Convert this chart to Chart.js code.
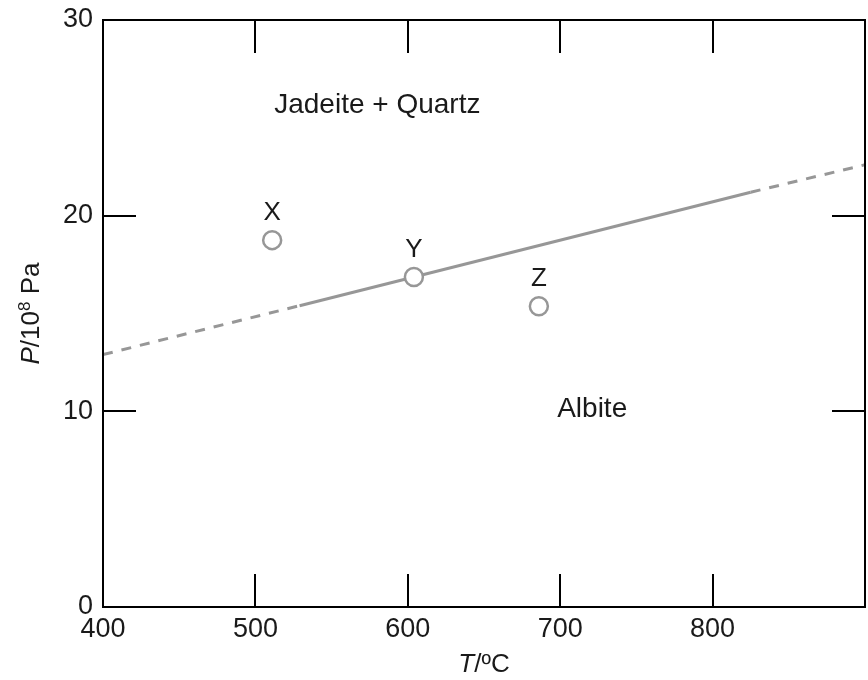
<!DOCTYPE html>
<html>
<head>
<meta charset="utf-8">
<title>Jadeite + Quartz / Albite phase boundary</title>
<script src="https://cdn.jsdelivr.net/npm/chart.js@4.4.1/dist/chart.umd.min.js"></script>
<style>
  html, body { margin: 0; padding: 0; background: #fff; }
  #wrap { width: 868px; height: 680px; }
</style>
</head>
<body>
<div id="wrap"><canvas id="c" width="868" height="680"></canvas></div>
<script>
// Phase boundary (T in °C, P in 10^8 Pa); solid between the middle two points
const boundaryT = [400, 529, 825, 900];
const boundaryP = [12.9, 15.4, 21.2, 22.6];

// Sample points
const sampleNames = ['X', 'Y', 'Z'];
const sampleT = [511, 604, 686];
const sampleP = [18.75, 16.87, 15.37];

// Field labels
const fieldNames = ['Jadeite + Quartz', 'Albite'];
const fieldT = [580, 721];
const fieldP = [25.65, 10.1];

// Axis ticks
const xTicks = [400, 500, 600, 700, 800, 900];
const yTicks = [0, 10, 20, 30];

const FONT = '"Liberation Sans", Arial, Helvetica, sans-serif';
const TEXT = '#1a1a1a';
const GREY = '#979797';

const frameAndLabels = {
  id: 'frameAndLabels',
  afterDraw(chart) {
    const ctx = chart.ctx;
    const a = chart.chartArea;
    const xs = chart.scales.x, ys = chart.scales.y;
    ctx.save();
    // frame
    ctx.strokeStyle = '#000';
    ctx.lineWidth = 2;
    ctx.strokeRect(a.left, a.top, a.right - a.left, a.bottom - a.top);
    // inward tick marks on all four sides
    const tl = 33;
    ctx.beginPath();
    xTicks.forEach(v => {
      if (v <= xs.min || v >= xs.max) return;
      const px = Math.round(xs.getPixelForValue(v));
      ctx.moveTo(px, a.bottom); ctx.lineTo(px, a.bottom - tl);
      ctx.moveTo(px, a.top); ctx.lineTo(px, a.top + tl);
    });
    yTicks.forEach(v => {
      if (v <= ys.min || v >= ys.max) return;
      const py = Math.round(ys.getPixelForValue(v));
      ctx.moveTo(a.left, py); ctx.lineTo(a.left + tl, py);
      ctx.moveTo(a.right, py); ctx.lineTo(a.right - tl, py);
    });
    ctx.stroke();

    // sample labels above the circles
    ctx.fillStyle = TEXT;
    ctx.font = '26px ' + FONT;
    ctx.textAlign = 'center';
    ctx.textBaseline = 'middle';
    sampleNames.forEach((n, i) => {
      ctx.fillText(n, xs.getPixelForValue(sampleT[i]), ys.getPixelForValue(sampleP[i]) - 27);
    });
    // field labels
    ctx.font = '28px ' + FONT;
    fieldNames.forEach((n, i) => {
      ctx.fillText(n, xs.getPixelForValue(fieldT[i]), ys.getPixelForValue(fieldP[i]));
    });

    // axis titles with italic symbols
    const drawRuns = (runs, cx, cy) => {
      let w = 0;
      runs.forEach(r => { ctx.font = r.font; r.w = ctx.measureText(r.t).width; w += r.w; });
      let x = cx - w / 2;
      ctx.textAlign = 'left';
      runs.forEach(r => {
        ctx.font = r.font;
        ctx.fillText(r.t, x, cy + (r.dy || 0));
        x += r.w;
      });
    };
    ctx.textBaseline = 'alphabetic';
    drawRuns([
      { t: 'T', font: 'italic 26px ' + FONT },
      { t: '/\u00BAC', font: '26px ' + FONT }
    ], (a.left + a.right) / 2, 672);

    ctx.save();
    ctx.translate(39, (a.top + a.bottom) / 2);
    ctx.rotate(-Math.PI / 2);
    drawRuns([
      { t: 'P', font: 'italic 26px ' + FONT },
      { t: '/10', font: '26px ' + FONT },
      { t: '8', font: '17px ' + FONT, dy: -9 },
      { t: ' Pa', font: '26px ' + FONT }
    ], 0, 0);
    ctx.restore();
    ctx.restore();
  }
};

new Chart(document.getElementById('c'), {
  type: 'scatter',
  data: {
    datasets: [
      {
        type: 'line',
        data: boundaryT.map((t, i) => ({ x: t, y: boundaryP[i] })),
        borderColor: GREY,
        borderWidth: 3,
        pointRadius: 0,
        fill: false,
        tension: 0,
        segment: {
          borderDash: ctx => (ctx.p0DataIndex === 1 ? [] : [10, 9])
        },
        order: 2
      },
      {
        data: sampleT.map((t, i) => ({ x: t, y: sampleP[i] })),
        pointStyle: 'circle',
        pointRadius: 9,
        borderColor: GREY,
        borderWidth: 2.5,
        backgroundColor: '#ffffff',
        order: 1
      }
    ]
  },
  options: {
    responsive: false,
    animation: false,
    events: [],
    layout: { autoPadding: false, padding: { left: 0, right: 3, top: 20, bottom: 0 } },
    plugins: { legend: { display: false }, tooltip: { enabled: false } },
    scales: {
      x: {
        type: 'linear',
        min: 400, max: 900,
        afterFit: s => { s.height = 73; s.paddingLeft = 0; s.paddingRight = 0; },
        afterBuildTicks: s => { s.ticks = xTicks.map(v => ({ value: v })); },
        grid: { display: false, drawTicks: false },
        border: { display: false },
        ticks: {
          padding: 6,
          color: TEXT,
          font: { family: FONT, size: 27 },
          maxRotation: 0,
          autoSkip: false,
          callback: v => (v === 900 ? '' : String(v))
        }
      },
      y: {
        type: 'linear',
        min: 0, max: 30,
        afterFit: s => { s.width = 103; s.paddingTop = 0; s.paddingBottom = 0; },
        afterBuildTicks: s => { s.ticks = yTicks.map(v => ({ value: v })); },
        grid: { display: false, drawTicks: false },
        border: { display: false },
        ticks: {
          padding: 10,
          color: TEXT,
          font: { family: FONT, size: 27 },
          autoSkip: false,
          callback: v => String(v)
        }
      }
    }
  },
  plugins: [frameAndLabels]
});
</script>
</body>
</html>
